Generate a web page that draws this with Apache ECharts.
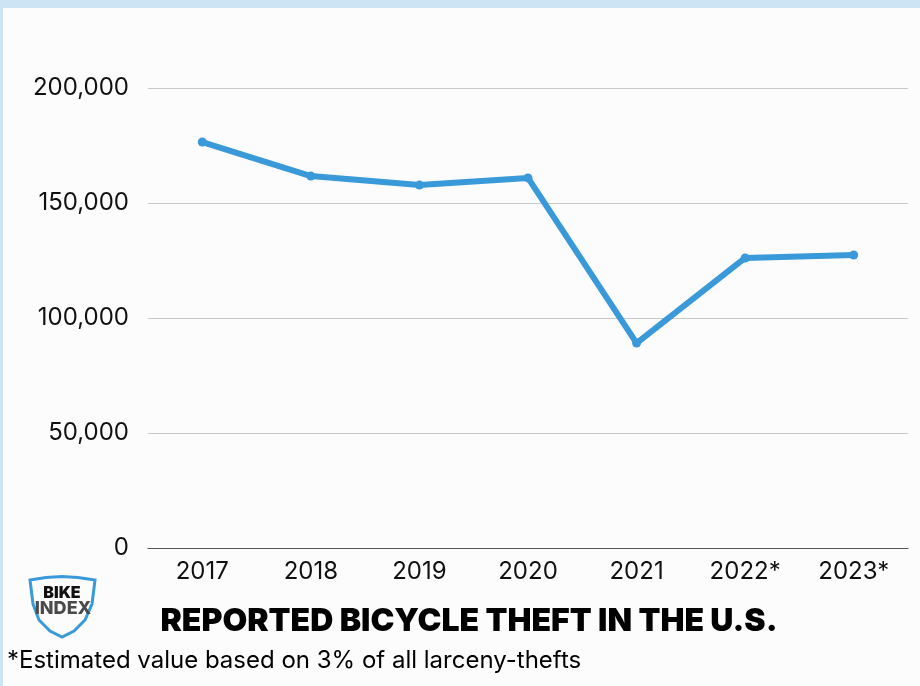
<!DOCTYPE html>
<html><head><meta charset="utf-8">
<script src="https://cdn.jsdelivr.net/npm/echarts@6/dist/echarts.min.js"></script>
<style>html,body{margin:0;padding:0;background:#cde4f5;}#c{width:920px;height:686px;}</style>
</head><body><div id="c"></div>
<script>
const categories = ['2017','2018','2019','2020','2021','2022*','2023*'];
const thefts = [176500, 161700, 157800, 160900, 89100, 126100, 127400];
const yTicks = [0, 50000, 100000, 150000, 200000];
const titleText = 'REPORTED BICYCLE THEFT IN THE U.S.';
const noteText = '*Estimated value based on 3% of all larceny-thefts';

const chart = echarts.init(document.getElementById('c'), null, {renderer:'canvas'});
const fmt = v => v.toLocaleString('en-US');
chart.setOption({
  backgroundColor: '#cde4f5',
  animation: false,
  graphic: [
    {type:'rect', shape:{x:3,y:8,width:917,height:678}, style:{fill:'#fcfcfc'}, z:-10},
    {type:'text', x:469, y:621, style:{text:titleText, font:'900 32px Inter, Lato, sans-serif', fill:'#000', align:'center', verticalAlign:'middle'}},
    {type:'text', x:7, y:661, style:{text:noteText, font:'24px Inter, Lato, sans-serif', fill:'#000', align:'left', verticalAlign:'middle'}},
    {type:'polygon', shape:{points:[[30,580],[46,577.5],[62,576.5],[78,577.5],[95,580],[92,604],[85,620],[74,631],[62,637],[50,631],[39,620],[33,604]]}, style:{fill:'none', stroke:'#3a9ad9', lineWidth:3}},
    {type:'text', x:62, y:593, style:{text:'BIKE', font:'900 16px Inter, sans-serif', fill:'#111', align:'center', verticalAlign:'middle'}},
    {type:'text', x:63, y:609, style:{text:'INDEX', font:'800 18px Inter, sans-serif', fill:'#4a4a4a', align:'center', verticalAlign:'middle'}}
  ],
  grid: {left:148, right:12, top:88, bottom:138, containLabel:false},
  xAxis: {
    type:'category', data:categories, boundaryGap:true,
    axisLine:{lineStyle:{color:'#555', width:1}},
    axisTick:{show:false},
    axisLabel:{color:'#111', fontSize:24, fontFamily:'Inter, Lato, sans-serif', margin:12}
  },
  yAxis: {
    type:'value', min:yTicks[0], max:yTicks[yTicks.length-1], interval:50000,
    axisLine:{show:false}, axisTick:{show:false},
    splitLine:{lineStyle:{color:'#c8c8c8', width:1}},
    axisLabel:{color:'#111', fontSize:24, fontFamily:'Inter, Lato, sans-serif', margin:19, formatter: v => fmt(v)}
  },
  series: [{
    type:'line', data:thefts, symbol:'circle', symbolSize:9, showSymbol:true,
    lineStyle:{color:'#3a9ad9', width:6}, itemStyle:{color:'#3a9ad9'}
  }]
});
</script></body></html>
